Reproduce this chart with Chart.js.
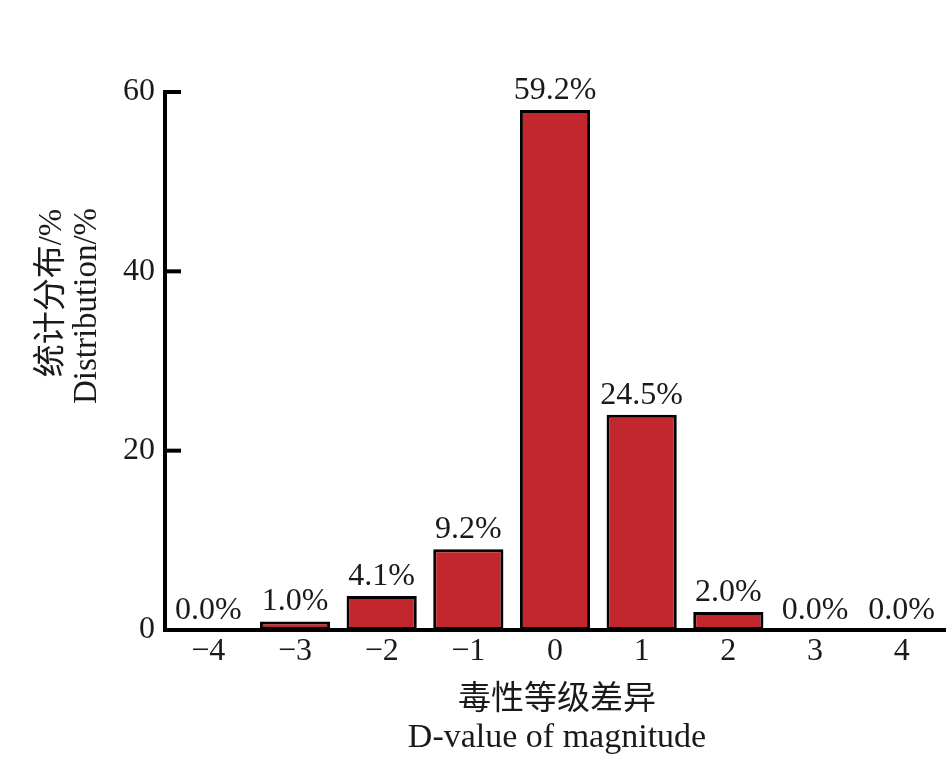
<!DOCTYPE html>
<html>
<head>
<meta charset="utf-8">
<script src="https://cdn.jsdelivr.net/npm/chart.js@4/dist/chart.umd.min.js"></script>
<style>
  html, body { margin: 0; padding: 0; background: #ffffff; }
  #wrap { position: relative; width: 947px; height: 761px; }
</style>
</head>
<body>
<div id="wrap"><canvas id="c" width="947" height="761"></canvas></div>
<script>
// ---- data ----
const categories = ['\u22124', '\u22123', '\u22122', '\u22121', '0', '1', '2', '3', '4'];
const barValues = [0, 0.95, 3.8, 9.0, 58.0, 24.0, 2.0, 0, 0];
const barLabels = ['0.0%', '1.0%', '4.1%', '9.2%', '59.2%', '24.5%', '2.0%', '0.0%', '0.0%'];
const yTicks = [0, 20, 40, 60];
const yTitleLines = ['统计分布/%', 'Distribution/%'];
const xTitleLines = ['毒性等级差异', 'D-value of magnitude'];

const FONT = "'Liberation Serif', 'Times New Roman', 'Noto Sans CJK SC', serif";

const labelPlugin = {
  id: 'barLabels',
  afterDatasetsDraw(chart) {
    const ctx = chart.ctx;
    const meta = chart.getDatasetMeta(0);
    ctx.save();
    ctx.font = '32px ' + FONT;
    ctx.fillStyle = '#1a1a1a';
    ctx.textAlign = 'center';
    ctx.textBaseline = 'alphabetic';
    meta.data.forEach((bar, i) => {
      ctx.fillText(barLabels[i], bar.x, bar.y - 11);
    });
    ctx.restore();
  }
};

const axisExtras = {
  id: 'axisExtras',
  afterDraw(chart) {
    const ctx = chart.ctx;
    const ca = chart.chartArea;
    const y = chart.scales.y;
    ctx.save();
    // inward tick marks on the y axis
    ctx.strokeStyle = '#000';
    ctx.lineWidth = 4;
    y.ticks.forEach(t => {
      if (t.value === 0) return;
      const py = y.getPixelForValue(t.value);
      ctx.beginPath();
      ctx.moveTo(ca.left, py);
      ctx.lineTo(ca.left + 16, py);
      ctx.stroke();
    });
    // y axis title (two rotated lines)
    ctx.fillStyle = '#1a1a1a';
    ctx.textAlign = 'center';
    ctx.textBaseline = 'middle';
    ctx.font = '33px ' + FONT;
    ctx.save();
    ctx.translate(ca.left - 113, ca.top + 201);
    ctx.rotate(-Math.PI / 2);
    ctx.fillText(yTitleLines[0], 0, 0);
    ctx.restore();
    ctx.save();
    ctx.translate(ca.left - 78, ca.top + 214);
    ctx.rotate(-Math.PI / 2);
    ctx.fillText(yTitleLines[1], 0, 0);
    ctx.restore();
    // x axis title (two lines)
    const cx = (ca.left + ca.right) / 2 + 2;
    ctx.font = '33px ' + FONT;
    ctx.fillText(xTitleLines[0], cx, ca.bottom + 70);
    ctx.font = '34px ' + FONT;
    ctx.fillText(xTitleLines[1], cx, ca.bottom + 108);
    ctx.restore();
  }
};

new Chart(document.getElementById('c'), {
  type: 'bar',
  data: {
    labels: categories,
    datasets: [{
      data: barValues,
      backgroundColor: '#c1272d',
      borderColor: '#000000',
      borderWidth: 3,
      borderSkipped: false,
      barPercentage: 0.81,
      categoryPercentage: 1.0
    }]
  },
  options: {
    responsive: false,
    animation: false,
    devicePixelRatio: 1,
    layout: { padding: { top: 92, right: 2, left: 0, bottom: 0 } },
    plugins: {
      legend: { display: false },
      tooltip: { enabled: false }
    },
    scales: {
      x: {
        grid: { display: false, drawTicks: false },
        border: { display: true, color: '#000', width: 4 },
        ticks: {
          color: '#1a1a1a',
          font: { family: FONT, size: 32 },
          padding: 2,
          maxRotation: 0,
          autoSkip: false
        },
        afterFit(scale) { scale.height = 131; }
      },
      y: {
        min: 0,
        max: 60,
        afterBuildTicks(scale) { scale.ticks = yTicks.map(v => ({ value: v })); },
        grid: { display: false, drawTicks: false },
        border: { display: true, color: '#000', width: 4 },
        ticks: {
          color: '#1a1a1a',
          font: { family: FONT, size: 32 },
          padding: 10
        },
        afterFit(scale) { scale.width = 165; }
      }
    }
  },
  plugins: [labelPlugin, axisExtras]
});
</script>
</body>
</html>
